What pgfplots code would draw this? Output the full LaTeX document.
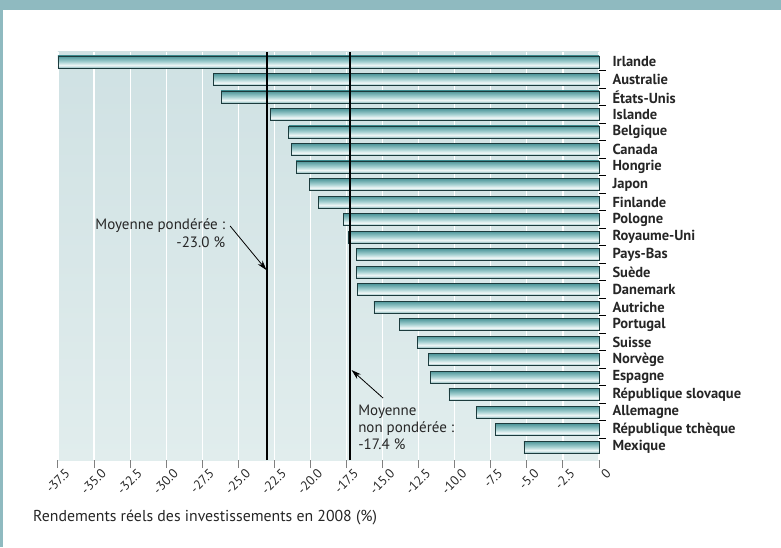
\documentclass[border=0pt]{standalone}
\usepackage{pgfplots}
\pgfplotsset{compat=1.18}
\usepackage{fontspec}
\setmainfont{PT Sans}
\usetikzlibrary{arrows.meta}
\definecolor{framecol}{HTML}{8FBAC0}
\definecolor{bgtop}{HTML}{CFE1E3}
\definecolor{bgbot}{HTML}{E1EDED}
\definecolor{bdark}{HTML}{2A6E72}
\definecolor{bteal}{HTML}{3F8C90}
\definecolor{bmid}{HTML}{5FA0A3}
\definecolor{blight}{HTML}{A3CFD0}
\definecolor{bwhite}{HTML}{F2F8F8}
\definecolor{outl}{HTML}{1C3B3D}
\definecolor{txt}{HTML}{262626}
\pgfdeclareverticalshading{barshade}{100bp}{color(0bp)=(bdark); color(18bp)=(bteal); color(36bp)=(bwhite); color(52bp)=(blight); color(78bp)=(bteal); color(100bp)=(bdark)}
\pgfplotsset{mybar/.style={xbar, bar shift=0pt, bar width=12pt, shading=barshade, draw=outl, line width=0.9pt}}
\begin{document}
\begin{tikzpicture}
\path[use as bounding box] (-58pt,-87pt) rectangle (723pt,460pt);
\fill[framecol] (-58pt,-87pt) rectangle (723pt,460pt);
\fill[white] (-55pt,-90pt) rectangle (726pt,450pt);
\begin{axis}[
  at={(0,0)}, anchor=south west,
  scale only axis, width=541pt, height=408pt,
  xmin=-37.5, xmax=0, ymin=-0.74, ymax=22.57,
  clip=false,
  axis line style={draw=none},
  axis background/.style={shade, top color=bgtop, bottom color=bgbot},
  xtick={-37.5,-35,-32.5,-30,-27.5,-25,-22.5,-20,-17.5,-15,-12.5,-10,-7.5,-5,-2.5,0},
  xticklabels={-37.5,-35.0,-32.5,-30.0,-27.5,-25.0,-22.5,-20.0,-17.5,-15.0,-12.5,-10.0,-7.5,-5.0,-2.5,0},
  xmajorgrids, grid style={white, line width=1.2pt},
  major tick length=8pt, tick align=outside,
  xtick pos=left, ytick pos=right, yticklabel pos=right,
  x tick style={draw=gray, line width=1pt},
  y tick style={draw=none},
  ytick={0,...,22},
  yticklabels={Mexique,République tchèque,Allemagne,République slovaque,Espagne,Norvège,Suisse,Portugal,Autriche,Danemark,Suède,Pays-Bas,Royaume-Uni,Pologne,Finlande,Japon,Hongrie,Canada,Belgique,Islande,États-Unis,Australie,Irlande},
  yticklabel style={font=\fontsize{14.5}{16}\selectfont\bfseries, text=txt, anchor=west, xshift=2pt},
  xticklabel style={font=\fontsize{13}{15}\selectfont, text=txt, xshift=12pt, yshift=-1pt, rotate=45, anchor=east},
]
\addplot[mybar] coordinates {(-5.2,0)};
\addplot[mybar] coordinates {(-7.2,1)};
\addplot[mybar] coordinates {(-8.5,2)};
\addplot[mybar] coordinates {(-10.4,3)};
\addplot[mybar] coordinates {(-11.7,4)};
\addplot[mybar] coordinates {(-11.8,5)};
\addplot[mybar] coordinates {(-12.6,6)};
\addplot[mybar] coordinates {(-13.8,7)};
\addplot[mybar] coordinates {(-15.6,8)};
\addplot[mybar] coordinates {(-16.75,9)};
\addplot[mybar] coordinates {(-16.8,10)};
\addplot[mybar] coordinates {(-16.8,11)};
\addplot[mybar] coordinates {(-17.35,12)};
\addplot[mybar] coordinates {(-17.7,13)};
\addplot[mybar] coordinates {(-19.45,14)};
\addplot[mybar] coordinates {(-20.1,15)};
\addplot[mybar] coordinates {(-21.0,16)};
\addplot[mybar] coordinates {(-21.3,17)};
\addplot[mybar] coordinates {(-21.5,18)};
\addplot[mybar] coordinates {(-22.8,19)};
\addplot[mybar] coordinates {(-26.2,20)};
\addplot[mybar] coordinates {(-26.7,21)};
\addplot[mybar] coordinates {(-37.5,22)};
% right-side tick marks between categories
\addplot[xcomb, black, line width=0.9pt, mark=none] coordinates {
(0.5,0.5) (0.5,1.5) (0.5,2.5) (0.5,3.5) (0.5,4.5) (0.5,5.5) (0.5,6.5) (0.5,7.5) (0.5,8.5) (0.5,9.5) (0.5,10.5) (0.5,11.5) (0.5,12.5) (0.5,13.5) (0.5,14.5) (0.5,15.5) (0.5,16.5) (0.5,17.5) (0.5,18.5) (0.5,19.5) (0.5,20.5) (0.5,21.5)
};
\addplot[black, line width=1.5pt] coordinates {(-23.0,-0.74) (-23.0,22.57)};
\addplot[black, line width=1.5pt] coordinates {(-17.25,-0.74) (-17.25,22.57)};
\draw[black, line width=0.8pt, -{Stealth[length=10pt, width=6pt]}] (axis cs:-25.57,12.63) -- (axis cs:-23.05,10.11);
\draw[black, line width=0.8pt, -{Stealth[length=10pt, width=6pt]}] (axis cs:-14.97,2.8) -- (axis cs:-17.15,4.4);
\node[anchor=east, align=right, inner sep=0pt, text=txt, font=\fontsize{15}{18}\selectfont] at (axis cs:-25.9,12.23) {Moyenne pondérée :\\-23.0 \%};
\node[anchor=west, align=left, inner sep=0pt, text=txt, font=\fontsize{15}{17}\selectfont] at (axis cs:-16.7,1.14) {Moyenne\\non pondérée :\\-17.4 \%};
\node[anchor=west, inner sep=0pt, text=txt, font=\fontsize{15.8}{17}\selectfont] at ([xshift=-25pt, yshift=-58pt]rel axis cs:0,0) {Rendements réels des investissements en 2008 (\%)};
\end{axis}
\end{tikzpicture}
\end{document}
